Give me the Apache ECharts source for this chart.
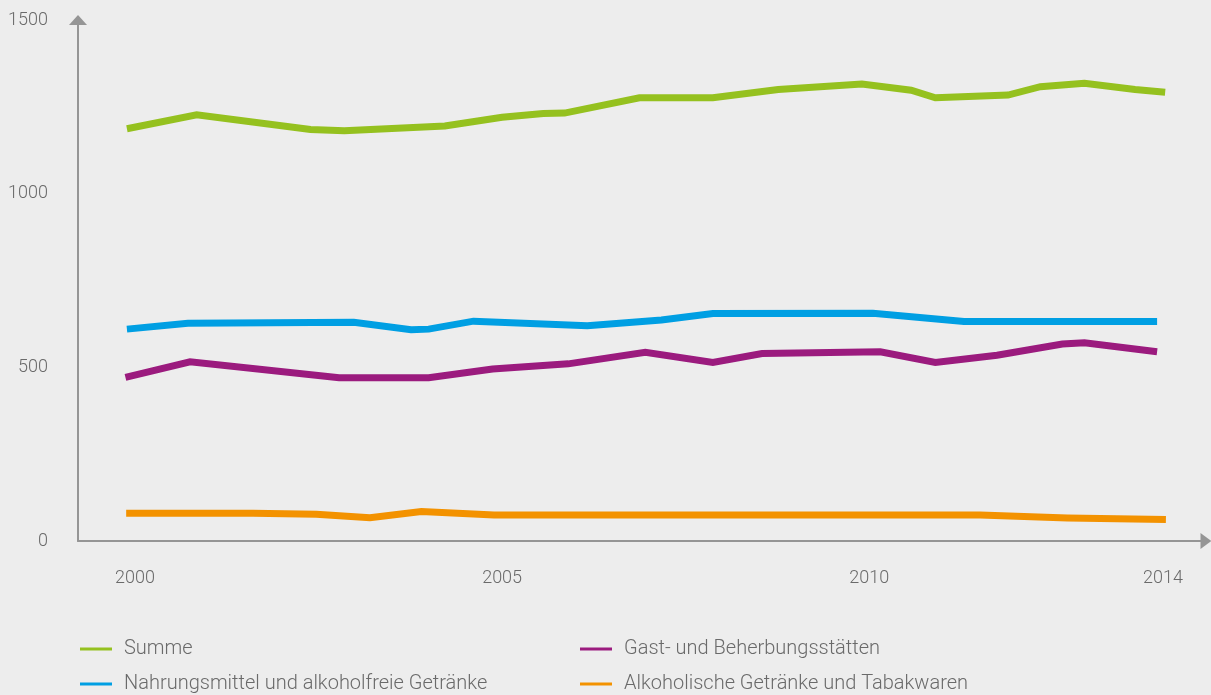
<!DOCTYPE html>
<html>
<head>
<meta charset="utf-8">
<script src="https://cdn.jsdelivr.net/npm/echarts@6/dist/echarts.min.js"></script>
<style>
html,body{margin:0;padding:0;background:#ededed;}
#c{width:1211px;height:695px;}
</style>
</head>
<body>
<div id="c"></div>
<script>
// Series names
var names = ['Summe', 'Gast- und Beherbungsstätten', 'Nahrungsmittel und alkoholfreie Getränke', 'Alkoholische Getränke und Tabakwaren'];
// x tick labels (years)
var xTicks = [2000, 2005, 2010, 2014];
var yTicks = [0, 500, 1000, 1500];

// Data: [year (fractional), value]
var summe = [
  [1999.89,1187],[2000.84,1227],[2002.39,1185],[2002.85,1181],[2004.22,1195],[2005.00,1220],
  [2005.56,1231],[2005.85,1232],[2006.87,1276],[2007.87,1276],[2008.76,1300],[2009.90,1316],
  [2010.57,1298],[2010.90,1276],[2011.89,1284],[2012.33,1308],[2012.93,1318],[2013.62,1300],[2014.03,1292]
];
var nahrung = [
  [1999.89,610],[2000.72,627],[2002.98,630],[2003.76,608],[2004.00,610],[2004.61,633],
  [2006.16,620],[2007.17,636],[2007.87,655],[2010.05,656],[2011.29,632],[2013.92,632]
];
var gast = [
  [1999.87,471],[2000.75,516],[2002.78,470],[2004.00,470],[2004.87,495],[2005.90,510],
  [2006.95,543],[2007.87,514],[2008.54,540],[2010.15,545],[2010.90,514],[2011.74,535],
  [2012.63,567],[2012.93,571],[2013.92,545]
];
var alkohol = [
  [1999.88,80],[2001.61,80],[2002.47,77],[2003.20,67],[2003.90,85],[2004.89,75],
  [2011.51,75],[2012.70,66],[2014.04,62]
];

var colors = {
  'Summe': '#95c11f',
  'Gast- und Beherbungsstätten': '#9b1b7e',
  'Nahrungsmittel und alkoholfreie Getränke': '#009fe3',
  'Alkoholische Getränke und Tabakwaren': '#f39200'
};
var seriesData = {
  'Summe': summe,
  'Gast- und Beherbungsstätten': gast,
  'Nahrungsmittel und alkoholfreie Getränke': nahrung,
  'Alkoholische Getränke und Tabakwaren': alkohol
};

var font = 'Roboto';
var textColor = '#6a6a6a';
var axisColor = '#959595';

var chart = echarts.init(document.getElementById('c'), null, {renderer: 'canvas'});

var legendPos = [
  {name: names[0], left: 80, top: 639},
  {name: names[2], left: 80, top: 674},
  {name: names[1], left: 580, top: 639},
  {name: names[3], left: 580, top: 674}
];

chart.setOption({
  backgroundColor: '#ededed',
  animation: false,
  grid: {left: 78, right: 5, top: 20, bottom: 154, containLabel: false},
  legend: legendPos.map(function (p) {
    return {
      left: p.left, top: p.top, padding: 0,
      icon: 'rect', itemWidth: 32, itemHeight: 3,
      data: [p.name],
      selectedMode: false,
      textStyle: {color: textColor, fontFamily: font, fontSize: 20, fontWeight: 300,
                  lineHeight: 20, padding: [0, 0, 0, 7]}
    };
  }),
  xAxis: {
    type: 'value',
    min: 1999.224,
    max: 2014.586,
    splitLine: {show: false},
    axisTick: {show: false},
    axisLine: {
      show: true,
      lineStyle: {color: axisColor, width: 2},
      symbol: ['none', 'triangle'],
      symbolSize: [16, 11]
    },
    axisLabel: {
      customValues: xTicks,
      formatter: function (v) { return String(Math.round(v)); },
      color: textColor, fontFamily: font, fontSize: 18, fontWeight: 300,
      margin: 28
    }
  },
  yAxis: {
    type: 'value',
    min: 0, max: 1500, interval: 500,
    splitLine: {show: false},
    axisTick: {show: false},
    axisLine: {
      show: true,
      lineStyle: {color: axisColor, width: 2},
      symbol: ['none', 'triangle'],
      symbolSize: [18, 10]
    },
    axisLabel: {
      customValues: yTicks,
      formatter: function (v) { return String(v); },
      color: textColor, fontFamily: font, fontSize: 18, fontWeight: 300,
      margin: 30
    }
  },
  series: names.map(function (n) {
    return {
      name: n,
      type: 'line',
      data: seriesData[n],
      showSymbol: false,
      symbol: 'none',
      color: colors[n],
      lineStyle: {width: 7, color: colors[n], cap: 'butt', join: 'miter'},
      emphasis: {disabled: true}
    };
  })
});
</script>
</body>
</html>
